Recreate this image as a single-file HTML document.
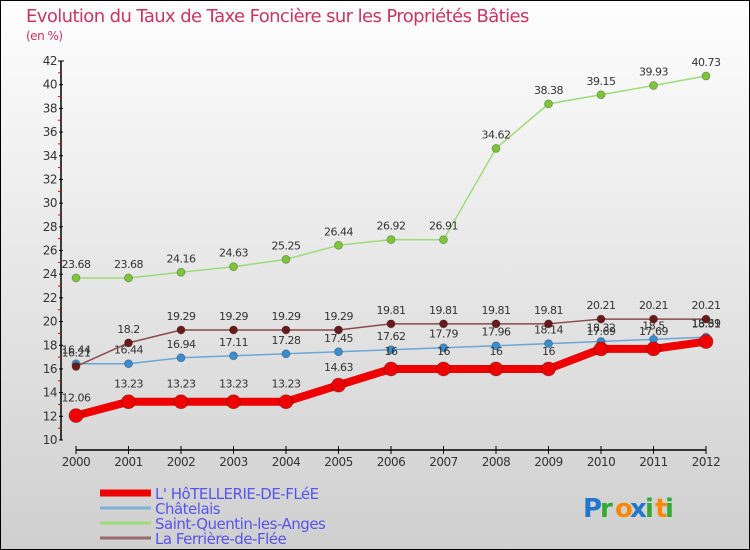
<!DOCTYPE html>
<html><head><meta charset="utf-8"><style>
body{margin:0}
#c{width:750px;height:550px;position:relative;box-sizing:border-box;border:1px solid #000;background:linear-gradient(#fefefe,#cfcfcf);font-family:"DejaVu Sans","Liberation Sans",sans-serif;overflow:hidden}
</style></head><body>
<div id="c">
<svg id="s" width="750" height="550" style="position:absolute;left:-1px;top:-1px"></svg>
</div>
<script>
const years=[2000,2001,2002,2003,2004,2005,2006,2007,2008,2009,2010,2011,2012];
const hotel=[12.06,13.23,13.23,13.23,13.23,14.63,16,16,16,16,17.69,17.69,18.31];
const chat=[16.44,16.44,16.94,17.11,17.28,17.45,17.62,17.79,17.96,18.14,18.32,18.5,18.69];
const sq=[23.68,23.68,24.16,24.63,25.25,26.44,26.92,26.91,34.62,38.38,39.15,39.93,40.73];
const fer=[16.21,18.2,19.29,19.29,19.29,19.29,19.81,19.81,19.81,19.81,20.21,20.21,20.21];
const yTicks=[10,12,14,16,18,20,22,24,26,28,30,32,34,36,38,40,42];
const NS="http://www.w3.org/2000/svg",s=document.getElementById('s');
const X=i=>76+i*(630/12), Y=v=>440-(v-10)*(379/32);
function el(t,a,p){const e=document.createElementNS(NS,t);for(const k in a)e.setAttribute(k,a[k]);(p||s).appendChild(e);return e;}
function tx(x,y,str,o){const e=el('text',Object.assign({x:x,y:y,'font-size':11,fill:'#333','text-anchor':'middle','letter-spacing':'-0.5'},o||{}));e.textContent=str;return e;}
let t=tx(26,22,"Evolution du Taux de Taxe Foncière sur les Propriétés Bâties",{'font-size':18,fill:'#c8365f','text-anchor':'start','letter-spacing':'-0.6'});

t=tx(26,40,"(en %)",{'font-size':12,fill:'#c8365f','text-anchor':'start'});

let ax=el('line',{x1:61,y1:61,x2:61,y2:440,stroke:'#000','stroke-width':1.5});

el('line',{x1:58,y1:61,x2:64,y2:61,stroke:'#000'});
yTicks.forEach(v=>{el('line',{x1:59,y1:Y(v),x2:63,y2:Y(v),stroke:'#000'});
 if(v<42)el('line',{x1:58,y1:Y(v+1),x2:61,y2:Y(v+1),stroke:'#e00'});
 const l=tx(57,Y(v)+4,String(v),{'text-anchor':'end','font-size':12});});
ax=el('line',{x1:76,y1:450,x2:706,y2:450,stroke:'#000','stroke-width':1.5});

years.forEach((y,i)=>{el('line',{x1:X(i),y1:446,x2:X(i),y2:454,stroke:'#000'});
 const l=tx(X(i),466,String(y),{'font-size':12});});
function series(d,name,col,dot,w,r){
 const g=el('g',{});
 el('polyline',{points:d.map((v,i)=>X(i)+','+Y(v)).join(' '),fill:'none',stroke:col,'stroke-width':w,'stroke-linejoin':'round'},g);
 d.forEach((v,i)=>{const c=el('circle',{cx:X(i),cy:Y(v),r:r,fill:dot,stroke:'rgba(0,0,0,0.25)'},g);
  tx(X(i),Y(v)-10-(r>5?4:0),String(v),{},g);});
}
series(sq,'series-saint-quentin','#9ddb78','#7dc63a',1.5,4);
series(chat,'series-chatelais','#6aa6d6','#3a8ed0',1.5,4);
series(fer,'series-la-ferriere','#8a4b4b','#6a1a1a',1.5,4);
series(hotel,'series-hotellerie','#ee0000','#ee0000',8,7);
const leg=[["L' HôTELLERIE-DE-FLéE",'#ee0000',7],["Châtelais",'#7fb0d8',3],["Saint-Quentin-les-Anges",'#9ddb78',3],["La Ferrière-de-Flée",'#9a6a6a',3]];
leg.forEach((l,i)=>{const g=el('g',{});
 const y=493+i*15;el('rect',{x:100,y:y-l[2]/2,width:51,height:l[2],fill:l[1]},g);
 tx(155,y+6,l[0],{'text-anchor':'start','font-size':15,fill:'#5555ee'},g);});
const lg=el('g',{});
[["P",'#2277cc'],["r",'#33aa33'],["o",'#ff8800'],["x",'#2277cc'],["i",'#33aa33'],["t",'#ff8800'],["i",'#33aa33']].reduce((x,c)=>{tx(x,517,c[0],{'text-anchor':'start','font-size':26,fill:c[1],'font-weight':'bold'},lg);return x+(c[0]=='i'||c[0]=='t'?10:c[0]=='P'?17:15);},583);
</script>
</body></html>
